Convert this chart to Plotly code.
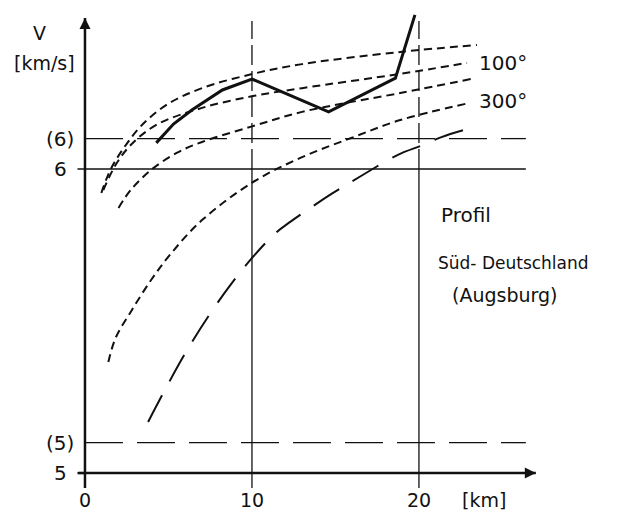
import plotly.graph_objects as go

# ---- data (distance in km, apparent velocity in km/s) ----
curve1_x = [0.98, 1.52, 2.32, 3.35, 4.88, 7.01, 10.06, 13.0, 18.88, 23.47]
curve1_y = [5.921, 5.997, 6.069, 6.141, 6.211, 6.266, 6.313, 6.345, 6.385, 6.408]

curve2_x = [1.10, 1.83, 2.74, 4.27, 7.01, 10.06, 13.0, 18.88, 22.88]
curve2_y = [5.931, 6.013, 6.079, 6.145, 6.201, 6.240, 6.266, 6.313, 6.349]

curve3_x = [2.01, 2.74, 3.96, 5.49, 7.01, 10.06, 13.0, 18.88, 23.12]
curve3_y = [5.872, 5.931, 5.997, 6.053, 6.089, 6.141, 6.188, 6.250, 6.296]

curve4_x = [1.40, 1.83, 2.74, 3.96, 5.18, 7.01, 10.06, 13.0, 15.94, 18.88, 23.0]
curve4_y = [5.365, 5.444, 5.530, 5.635, 5.724, 5.832, 5.957, 6.039, 6.102, 6.161, 6.217]

longdash_x = [3.78, 4.88, 6.22, 7.80, 8.84, 10.06, 11.41, 12.29, 14.76, 16.53, 18.71, 20.24, 21.35, 23.12]
longdash_y = [5.168, 5.283, 5.414, 5.549, 5.628, 5.711, 5.789, 5.826, 5.918, 5.977, 6.046, 6.079, 6.105, 6.135]

observed_x = [4.27, 5.30, 6.40, 8.23, 10.0, 14.59, 18.59, 19.76]
observed_y = [6.086, 6.148, 6.194, 6.260, 6.296, 6.188, 6.299, 6.507]

x_ticks = [0, 10, 20]
x_tick_labels = ["0", "10", "20"]
y_ticks = [5, 6]
y_tick_labels = ["5", "6"]
y_alt_ticks = [5.1, 6.1]
y_alt_tick_labels = ["(5)", "(6)"]

curve_labels = ["100°", "300°"]
curve_label_y = [6.350, 6.225]

INK = "#111111"
FONT = "DejaVu Sans"

# figure is drawn inside the page body (8px default margin)
X_RANGE = [-4.61, 32.1]
Y_RANGE = [4.862, 6.5296]
X_END = 26.4     # end of horizontal reference lines
X_AXIS_END = 27.0
Y_AXIS_TOP = 6.497
Y_BOTTOM = 4.951

fig = go.Figure()

def add_line(x, y, width, dash="solid", shape="linear"):
    fig.add_trace(go.Scatter(x=x, y=y, mode="lines", hoverinfo="skip",
                             line=dict(color=INK, width=width, dash=dash, shape=shape),
                             showlegend=False))

# reference lines
add_line([-0.45, X_END], [6, 6], 1.3)
for yv in y_alt_ticks:
    add_line([0, X_END], [yv, yv], 1.3, dash="38px,14px")
for xv in x_ticks[1:]:
    add_line([xv, xv], [Y_BOTTOM, 6.0], 1.3)
    add_line([xv, xv], [6.0, Y_AXIS_TOP - 0.01], 1.3, dash="20px,6px")
# tick stub
add_line([-0.45, 0], [5, 5], 2.2)

# axes
add_line([-0.4, X_AXIS_END], [5, 5], 2.5)
add_line([0, 0], [Y_BOTTOM, Y_AXIS_TOP], 2.5)

# model curves
for cx, cy in [(curve1_x, curve1_y), (curve2_x, curve2_y), (curve3_x, curve3_y), (curve4_x, curve4_y)]:
    add_line(cx, cy, 2.0, dash="8px,5px", shape="spline")
add_line(longdash_x, longdash_y, 2.0, dash="30px,16px", shape="spline")

# observed
add_line(observed_x, observed_y, 3.0)

ann = []
# arrows
ann.append(dict(x=X_AXIS_END, y=5, ax=X_AXIS_END - 1.2, ay=5, xref="x", yref="y", axref="x", ayref="y",
                text="", showarrow=True, arrowhead=2, arrowsize=1.1, arrowwidth=2, arrowcolor=INK))
ann.append(dict(x=0, y=Y_AXIS_TOP, ax=0, ay=Y_AXIS_TOP - 0.06, xref="x", yref="y", axref="x", ayref="y",
                text="", showarrow=True, arrowhead=2, arrowsize=1.1, arrowwidth=2, arrowcolor=INK))

for xv, t in zip(x_ticks, x_tick_labels):
    ann.append(dict(x=xv, y=4.91, text=t, showarrow=False, xanchor="center", yanchor="middle",
                    font=dict(family=FONT, size=19, color=INK)))
ann.append(dict(x=23.9, y=4.91, text="[km]", showarrow=False, xanchor="center", yanchor="middle",
                font=dict(family=FONT, size=19, color=INK)))
for yv, t in zip(y_ticks, y_tick_labels):
    ann.append(dict(x=-0.95, y=yv, text=t, showarrow=False, xanchor="right", yanchor="middle",
                    font=dict(family=FONT, size=20, color=INK)))
for yv, t in zip(y_alt_ticks, y_alt_tick_labels):
    ann.append(dict(x=-0.55, y=yv, text=t, showarrow=False, xanchor="right", yanchor="middle",
                    font=dict(family=FONT, size=20, color=INK)))
ann.append(dict(x=-2.7, y=6.448, text="V", showarrow=False, xanchor="center", yanchor="middle",
                font=dict(family=FONT, size=19, color=INK)))
ann.append(dict(x=-2.4, y=6.349, text="[km/s]", showarrow=False, xanchor="center", yanchor="middle",
                font=dict(family=FONT, size=19, color=INK)))
for yv, t in zip(curve_label_y, curve_labels):
    ann.append(dict(x=23.5, y=yv, text=t, showarrow=False, xanchor="left", yanchor="middle",
                    font=dict(family=FONT, size=20, color=INK)))
ann.append(dict(x=21.2, y=5.849, text="Profil", showarrow=False, xanchor="left", yanchor="middle",
                font=dict(family=FONT, size=20, color=INK)))
ann.append(dict(x=21.05, y=5.691, text="Süd- Deutschland", showarrow=False, xanchor="left", yanchor="middle",
                font=dict(family=FONT, size=17, color=INK)))
ann.append(dict(x=25.1, y=5.586, text="(Augsburg)", showarrow=False, xanchor="center", yanchor="middle",
                font=dict(family=FONT, size=19, color=INK)))

fig.update_layout(
    width=613, height=507,
    margin=dict(l=0, r=0, t=0, b=0),
    paper_bgcolor="white", plot_bgcolor="white",
    xaxis=dict(range=X_RANGE, visible=False, fixedrange=True),
    yaxis=dict(range=Y_RANGE, visible=False, fixedrange=True),
    annotations=ann,
    showlegend=False,
)

fig.write_html("out.html")
